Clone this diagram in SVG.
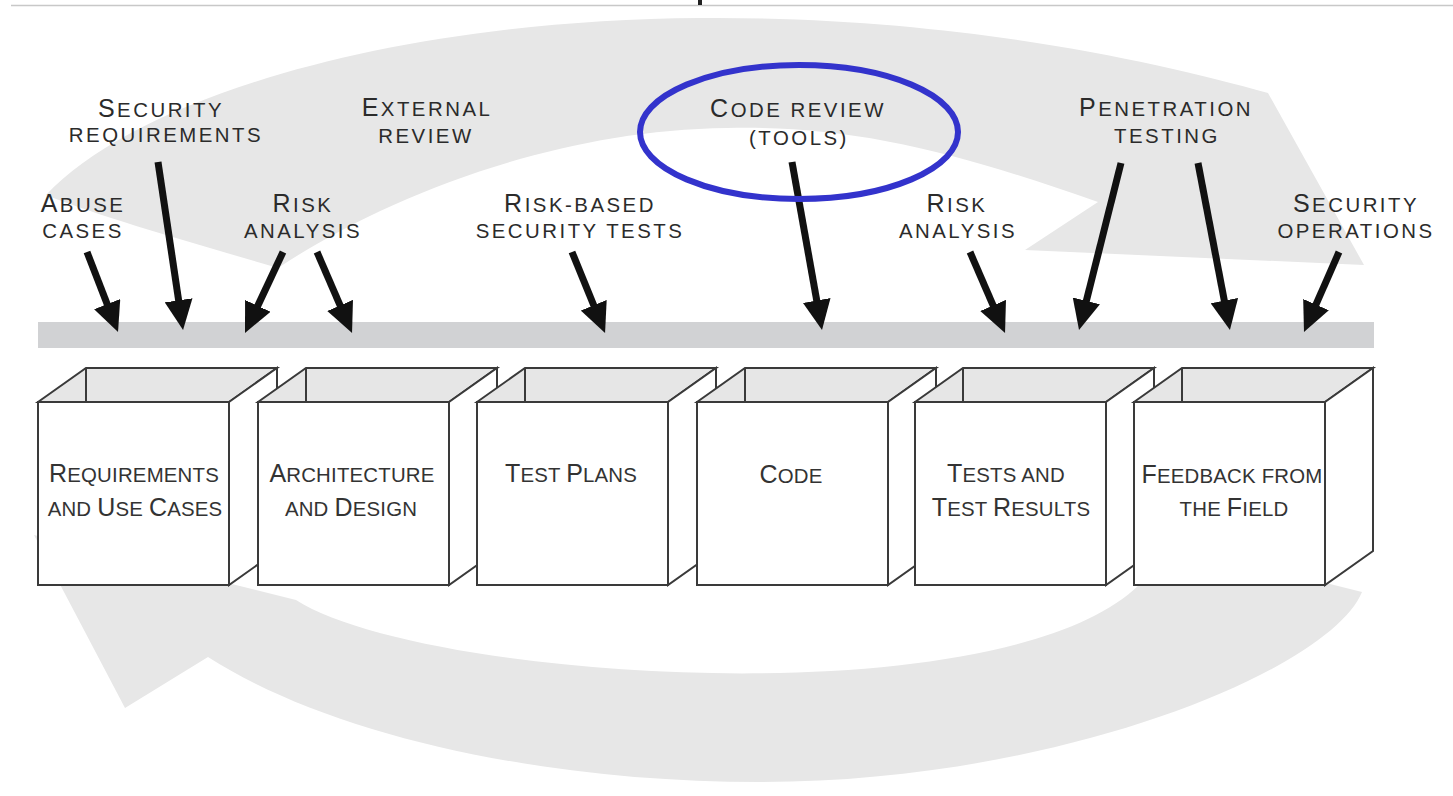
<svg xmlns="http://www.w3.org/2000/svg" width="1453" height="796" viewBox="0 0 1453 796">
<defs>
<style>
.band{fill:#e7e7e7}
.bar{fill:#d1d2d4}
.box rect,.box polygon{stroke:#3a3a3a;stroke-width:2;stroke-linejoin:miter}
.front{fill:#fff}
.inside{fill:#e6e6e6}
.side{fill:#fff}
.edge{stroke:#3a3a3a;stroke-width:2}
.arrow{stroke:#111;stroke-width:7;fill:none;marker-end:url(#head)}
.lbl{font-family:"Liberation Sans",Arial,sans-serif;font-size:20.4px;text-transform:uppercase;letter-spacing:2.5px;fill:#2b2b2b;text-anchor:middle}
.bt{font-family:"Liberation Sans",Arial,sans-serif;font-size:20.4px;text-transform:uppercase;letter-spacing:0.2px;fill:#333;text-anchor:middle}
.cap{font-size:25px}
</style>
<marker id="head" viewBox="0 0 30 28" refX="10" refY="14" markerWidth="30" markerHeight="28" markerUnits="userSpaceOnUse" orient="auto">
<path d="M0,0 L30,14 L0,28 Z" fill="#111"/>
</marker>
</defs>
<rect width="1453" height="796" fill="#fff"/>
<line x1="11" y1="5.5" x2="1453" y2="5.5" stroke="#c8c8c8" stroke-width="1.5"/>
<rect x="698" y="0" width="4" height="5" fill="#222"/>

<g id="cycle">
<path class="band" d="M46,195 C140,95 400,20 700,18 C950,16 1150,60 1268,93 L1364,265 L1025,250 L1098,202 C950,150 850,125 727,128 C550,130 380,200 278,268 C200,245 110,220 46,195 Z"/>
<path class="band" d="M1362,592 C1330,670 1060,782 760,782 C540,782 330,735 208,657 L125,708 L34,535 L296,600 C420,680 1000,720 1139,585 L1330,584 Z"/>
</g>

<rect id="timeline" class="bar" x="38" y="322" width="1336" height="26"/>

<g id="box-requirements" class="box">
<polygon class="inside" points="38,402 86,368 277,368 229,402"/>
<line class="edge" x1="86" y1="368" x2="86" y2="402"/>
<polygon class="side" points="229,402 277,368 277,551 229,585"/>
<rect class="front" x="38" y="402" width="191" height="183"/>
<text class="bt"><tspan x="134" y="482"><tspan class="cap">R</tspan>equirements</tspan><tspan x="135" y="516">and <tspan class="cap">U</tspan>se <tspan class="cap">C</tspan>ases</tspan></text>
</g>
<g id="box-architecture" class="box">
<polygon class="inside" points="258,402 306,368 497,368 449,402"/>
<line class="edge" x1="306" y1="368" x2="306" y2="402"/>
<polygon class="side" points="449,402 497,368 497,551 449,585"/>
<rect class="front" x="258" y="402" width="191" height="183"/>
<text class="bt"><tspan x="352" y="482"><tspan class="cap">A</tspan>rchitecture</tspan><tspan x="351" y="516">and <tspan class="cap">D</tspan>esign</tspan></text>
</g>
<g id="box-testplans" class="box">
<polygon class="inside" points="477,402 525,368 716,368 668,402"/>
<line class="edge" x1="525" y1="368" x2="525" y2="402"/>
<polygon class="side" points="668,402 716,368 716,551 668,585"/>
<rect class="front" x="477" y="402" width="191" height="183"/>
<text class="bt"><tspan x="571" y="482"><tspan class="cap">T</tspan>est <tspan class="cap">P</tspan>lans</tspan></text>
</g>
<g id="box-code" class="box">
<polygon class="inside" points="697,402 745,368 936,368 888,402"/>
<line class="edge" x1="745" y1="368" x2="745" y2="402"/>
<polygon class="side" points="888,402 936,368 936,551 888,585"/>
<rect class="front" x="697" y="402" width="191" height="183"/>
<text class="bt"><tspan x="791" y="483"><tspan class="cap">C</tspan>ode</tspan></text>
</g>
<g id="box-tests" class="box">
<polygon class="inside" points="915,402 963,368 1154,368 1106,402"/>
<line class="edge" x1="963" y1="368" x2="963" y2="402"/>
<polygon class="side" points="1106,402 1154,368 1154,551 1106,585"/>
<rect class="front" x="915" y="402" width="191" height="183"/>
<text class="bt"><tspan x="1006" y="482"><tspan class="cap">T</tspan>ests and</tspan><tspan x="1011" y="516"><tspan class="cap">T</tspan>est <tspan class="cap">R</tspan>esults</tspan></text>
</g>
<g id="box-feedback" class="box">
<polygon class="inside" points="1134,402 1182,368 1373,368 1325,402"/>
<line class="edge" x1="1182" y1="368" x2="1182" y2="402"/>
<polygon class="side" points="1325,402 1373,368 1373,551 1325,585"/>
<rect class="front" x="1134" y="402" width="191" height="183"/>
<text class="bt"><tspan x="1232" y="483"><tspan class="cap">F</tspan>eedback from</tspan><tspan x="1234" y="516">the <tspan class="cap">F</tspan>ield</tspan></text>
</g>

<g id="connectors">
<line class="arrow" x1="87" y1="252" x2="110.8" y2="313.4"/>
<line class="arrow" x1="158" y1="162" x2="180.1" y2="310.2"/>
<line class="arrow" x1="283" y1="252" x2="253.5" y2="314.9"/>
<line class="arrow" x1="317" y1="252" x2="344.1" y2="314.6"/>
<line class="arrow" x1="572" y1="252" x2="597.5" y2="314.5"/>
<line class="arrow" x1="792" y1="162" x2="818.5" y2="310.3"/>
<line class="arrow" x1="970" y1="252" x2="997.1" y2="314.6"/>
<line class="arrow" x1="1121" y1="163" x2="1083.9" y2="310.6"/>
<line class="arrow" x1="1198" y1="163" x2="1226.2" y2="310.4"/>
<line class="arrow" x1="1339" y1="252" x2="1312" y2="313.7"/>
</g>

<g id="label-abuse"><text class="lbl"><tspan x="83" y="212"><tspan class="cap">A</tspan>buse</tspan><tspan x="83" y="238">cases</tspan></text></g>
<g id="label-secreq"><text class="lbl"><tspan x="161" y="117"><tspan class="cap">S</tspan>ecurity</tspan><tspan x="166" y="142">requirements</tspan></text></g>
<g id="label-external"><text class="lbl"><tspan x="427" y="116"><tspan class="cap">E</tspan>xternal</tspan><tspan x="426" y="143">review</tspan></text></g>
<g id="label-risk1"><text class="lbl"><tspan x="303" y="212"><tspan class="cap">R</tspan>isk</tspan><tspan x="303" y="238">analysis</tspan></text></g>
<g id="label-riskbased"><text class="lbl"><tspan x="580" y="212"><tspan class="cap">R</tspan>isk-based</tspan><tspan x="580" y="238">security tests</tspan></text></g>
<g id="label-codereview"><text class="lbl"><tspan x="798" y="117"><tspan class="cap">C</tspan>ode review</tspan><tspan x="799" y="145">(tools)</tspan></text></g>
<g id="label-risk2"><text class="lbl"><tspan x="957" y="212"><tspan class="cap">R</tspan>isk</tspan><tspan x="958" y="238">analysis</tspan></text></g>
<g id="label-pentest"><text class="lbl"><tspan x="1166" y="116"><tspan class="cap">P</tspan>enetration</tspan><tspan x="1167" y="143">testing</tspan></text></g>
<g id="label-secops"><text class="lbl"><tspan x="1356" y="212"><tspan class="cap">S</tspan>ecurity</tspan><tspan x="1356" y="238">operations</tspan></text></g>

<ellipse id="highlight" cx="799" cy="132" rx="159" ry="67" fill="none" stroke="#3333cc" stroke-width="6"/>
</svg>
